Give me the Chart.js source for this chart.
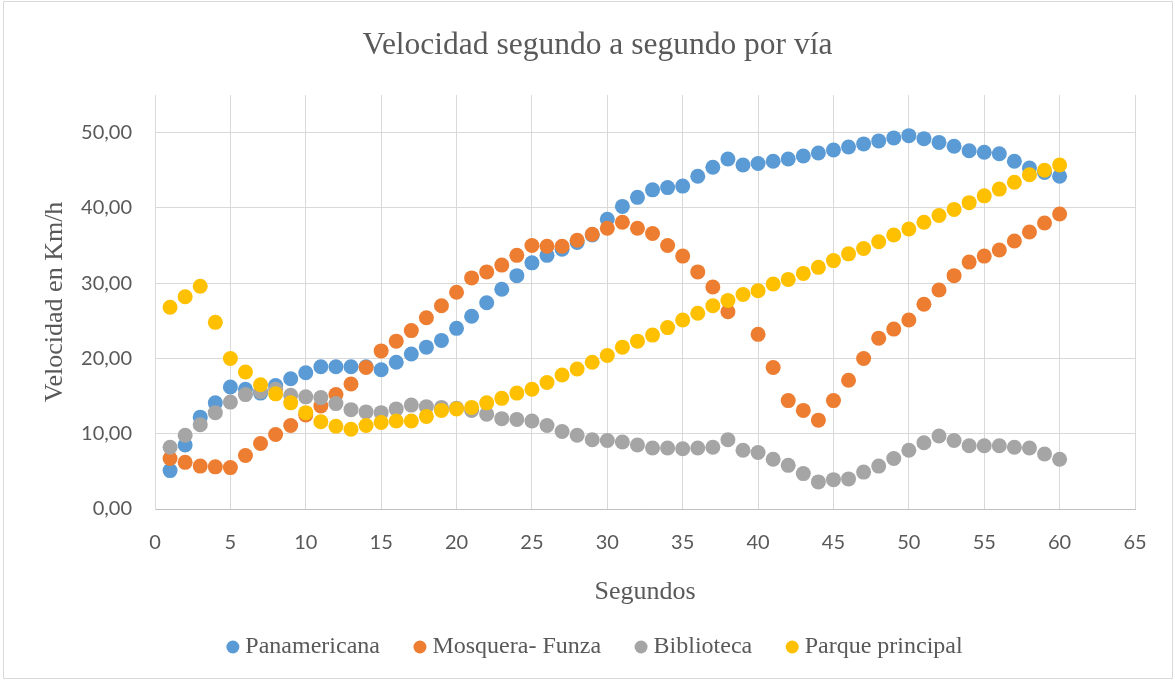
<!DOCTYPE html>
<html>
<head>
<meta charset="utf-8">
<title>Velocidad segundo a segundo por vía</title>
<script src="https://cdn.jsdelivr.net/npm/chart.js@4.4.0/dist/chart.umd.min.js"></script>
<style>
    body { margin: 0; background: #fff; }
    #wrap { position: relative; width: 1175px; height: 681px; }
    #frame { position: absolute; left: 3px; top: 1px; width: 1168px; height: 676px; border: 1px solid #d9d9d9; pointer-events: none; }
</style>
</head>
<body>
<div id="wrap">
    <canvas id="myChart" width="1175" height="681"></canvas>
    <div id="frame"></div>
</div>
<script>
const segundos = [1, 2, 3, 4, 5, 6, 7, 8, 9, 10, 11, 12, 13, 14, 15, 16, 17, 18, 19, 20,
    21, 22, 23, 24, 25, 26, 27, 28, 29, 30, 31, 32, 33, 34, 35, 36, 37, 38, 39, 40,
    41, 42, 43, 44, 45, 46, 47, 48, 49, 50, 51, 52, 53, 54, 55, 56, 57, 58, 59, 60];

const panamericana = [5.1, 8.5, 12.2, 14.1, 16.2, 15.9, 15.4, 16.4, 17.3, 18.1,
    18.9, 18.9, 18.9, 18.9, 18.5, 19.5, 20.6, 21.5, 22.4, 24.0,
    25.6, 27.4, 29.2, 31.0, 32.7, 33.7, 34.5, 35.4, 36.4, 38.5,
    40.2, 41.4, 42.4, 42.7, 42.9, 44.2, 45.4, 46.5, 45.7, 45.9,
    46.2, 46.5, 46.9, 47.3, 47.7, 48.1, 48.5, 48.9, 49.3, 49.6,
    49.2, 48.7, 48.2, 47.6, 47.4, 47.2, 46.2, 45.3, 44.7, 44.2];

// en el segundo 39 no aparece punto
const mosquera = [6.7, 6.2, 5.7, 5.6, 5.5, 7.1, 8.7, 9.9, 11.1, 12.5,
    13.7, 15.2, 16.6, 18.8, 21.0, 22.3, 23.7, 25.4, 27.0, 28.8,
    30.7, 31.5, 32.4, 33.7, 35.0, 34.9, 34.9, 35.7, 36.5, 37.3,
    38.1, 37.3, 36.6, 35.0, 33.6, 31.5, 29.5, 26.2, null, 23.2,
    18.8, 14.4, 13.1, 11.8, 14.4, 17.1, 20.0, 22.7, 23.9, 25.1,
    27.2, 29.1, 31.0, 32.8, 33.6, 34.4, 35.6, 36.8, 38.0, 39.2];

const biblioteca = [8.2, 9.8, 11.2, 12.8, 14.2, 15.2, 15.6, 15.9, 15.1, 14.9,
    14.8, 14.0, 13.2, 12.9, 12.8, 13.3, 13.8, 13.6, 13.5, 13.4,
    13.1, 12.6, 12.0, 11.9, 11.7, 11.1, 10.3, 9.8, 9.2, 9.1,
    8.9, 8.5, 8.1, 8.1, 8.0, 8.1, 8.2, 9.2, 7.8, 7.5,
    6.6, 5.8, 4.7, 3.6, 3.9, 4.0, 4.9, 5.7, 6.7, 7.8,
    8.8, 9.7, 9.1, 8.4, 8.4, 8.4, 8.2, 8.1, 7.3, 6.6];

const parque = [26.8, 28.2, 29.6, 24.8, 20.0, 18.2, 16.5, 15.3, 14.1, 12.8,
    11.6, 11.0, 10.6, 11.1, 11.5, 11.7, 11.7, 12.3, 13.1, 13.3,
    13.5, 14.1, 14.7, 15.4, 15.9, 16.8, 17.8, 18.6, 19.5, 20.4,
    21.5, 22.3, 23.1, 24.1, 25.1, 26.0, 27.0, 27.7, 28.5, 29.0,
    29.9, 30.5, 31.3, 32.1, 33.0, 33.9, 34.6, 35.5, 36.4, 37.2,
    38.1, 39.0, 39.8, 40.7, 41.6, 42.5, 43.4, 44.4, 45.0, 45.7];

const toPoints = (arr) => segundos.map((s, i) => ({x: s, y: arr[i]}));

const textColor = '#595959';
const gridColor = '#d9d9d9';

const data = {
    datasets: [
        {label: 'Panamericana', data: toPoints(panamericana), backgroundColor: '#5B9BD5', order: 4},
        {label: 'Mosquera- Funza', data: toPoints(mosquera), backgroundColor: '#ED7D31', order: 3},
        {label: 'Biblioteca', data: toPoints(biblioteca), backgroundColor: '#A5A5A5', order: 2},
        {label: 'Parque principal', data: toPoints(parque), backgroundColor: '#FFC000', order: 1}
    ]
};

const config = {
    type: 'scatter',
    data: data,
    options: {
        responsive: false,
        animation: false,
        layout: {padding: {left: 60, right: 40, top: 0, bottom: 12}},
        elements: {
            point: {radius: 7.5, hoverRadius: 7.5, borderWidth: 0}
        },
        scales: {
            x: {
                type: 'linear',
                min: 0,
                max: 65,
                ticks: {stepSize: 5, padding: 22, color: textColor, font: {family: 'Lato', size: 20}},
                grid: {color: gridColor, drawTicks: false},
                border: {color: '#bfbfbf'},
                title: {
                    display: true,
                    text: 'Segundos',
                    color: textColor,
                    font: {family: 'Liberation Serif', size: 26},
                    padding: {top: 0, bottom: -12}
                },
                afterFit: function (scale) { scale.height = 86.5; }
            },
            y: {
                min: 0,
                max: 55,
                ticks: {
                    stepSize: 10,
                    padding: 23,
                    color: textColor,
                    font: {family: 'Lato', size: 20},
                    callback: (v) => v.toFixed(2).replace('.', ',')
                },
                afterBuildTicks: function (scale) {
                    scale.ticks = scale.ticks.filter(t => t.value <= 50);
                },
                grid: {color: gridColor, drawTicks: false},
                border: {color: gridColor},
                title: {
                    display: true,
                    text: 'Velocidad en Km/h',
                    color: textColor,
                    font: {family: 'Liberation Serif', size: 26},
                    padding: {top: -20, bottom: 0}
                },
                afterFit: function (scale) { scale.width = 95; }
            }
        },
        plugins: {
            title: {
                display: true,
                text: 'Velocidad segundo a segundo por vía',
                color: textColor,
                font: {family: 'Liberation Serif', size: 31.5, weight: 'normal'},
                padding: {top: 27, bottom: 30.2}
            },
            legend: {
                position: 'bottom',
                labels: {
                    usePointStyle: true,
                    pointStyle: 'circle',
                    boxWidth: 1,
                    boxHeight: 9.2,
                    padding: 39.5,
                    color: textColor,
                    font: {family: 'Liberation Serif', size: 24},
                    sort: (a, b) => a.datasetIndex - b.datasetIndex
                }
            },
            tooltip: {enabled: false}
        }
    }
};

const myChart = new Chart(document.getElementById('myChart').getContext('2d'), config);
</script>
</body>
</html>
